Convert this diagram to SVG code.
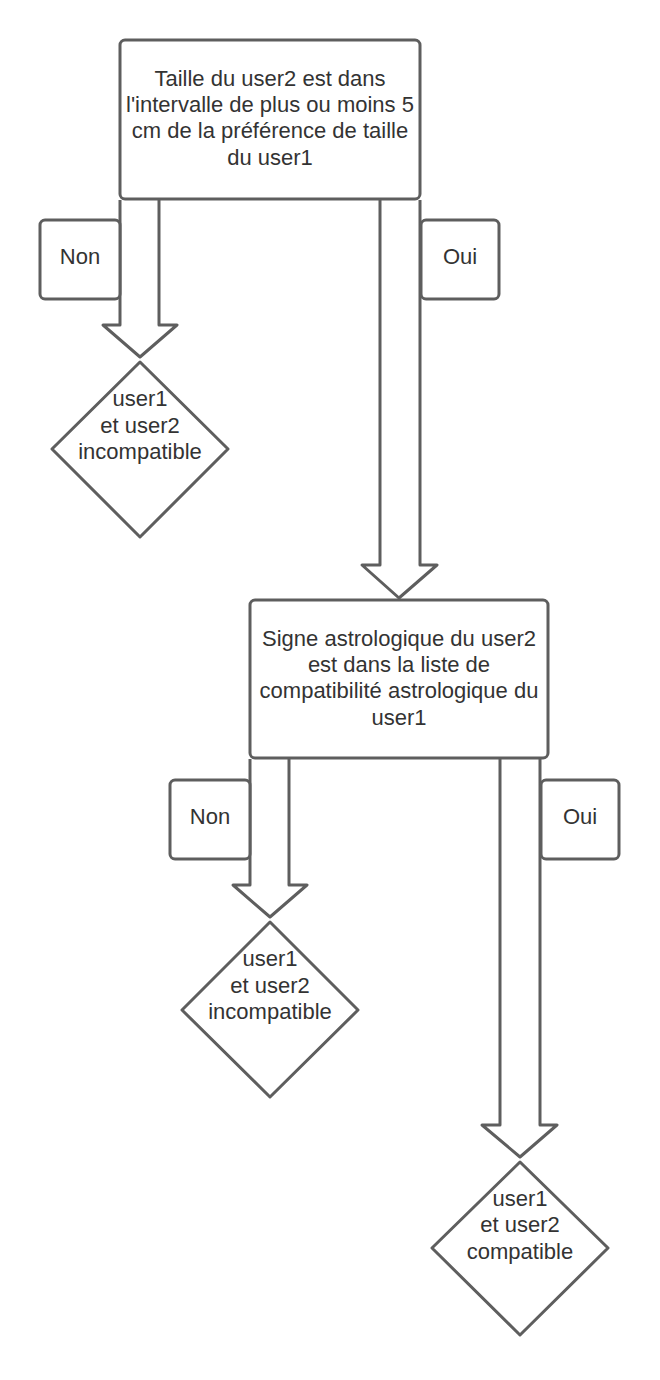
<svg xmlns="http://www.w3.org/2000/svg" width="660" height="1380" viewBox="0 0 660 1380">
<style>
.box{fill:#ffffff;stroke:#5e5e5e;stroke-width:3;stroke-linejoin:round}
.arr{fill:#ffffff;stroke:#5e5e5e;stroke-width:3;stroke-linejoin:round}
text{font-family:"Liberation Sans",Arial,sans-serif;font-size:22px;fill:#333333;text-anchor:middle;dominant-baseline:central}
</style>
<rect width="660" height="1380" fill="#ffffff"/>
<g id="connectors">
<path class="arr" d="M120,200 V325 H103 L140,357 L177,325 H159 V200"/>
<path class="arr" d="M380,200 V565 H362 L399,598 L437,565 H420 V200"/>
<path class="arr" d="M250,759 V885 H233 L270,917 L307,885 H289 V759"/>
<path class="arr" d="M500,759 V1125 H482 L520,1157 L557,1125 H540 V759"/>
</g>
<g id="q1">
<rect class="box" x="120" y="40" width="300" height="159" rx="5"/>
<text x="270" y="78">Taille du user2 est dans</text>
<text x="270" y="104">l'intervalle de plus ou moins 5</text>
<text x="270" y="130">cm de la préférence de taille</text>
<text x="270" y="157">du user1</text>
</g>
<g id="non1">
<rect class="box" x="40" y="220" width="80" height="79" rx="5"/>
<text x="80" y="256">Non</text>
</g>
<g id="oui1">
<rect class="box" x="421" y="220" width="78" height="79" rx="5"/>
<text x="460" y="256">Oui</text>
</g>
<g id="res1">
<path class="box" d="M140,362 L228,449 L140,537 L52,449 Z"/>
<text x="140" y="398">user1</text>
<text x="140" y="425">et user2</text>
<text x="140" y="451">incompatible</text>
</g>
<g id="q2">
<rect class="box" x="250" y="600" width="298" height="158" rx="5"/>
<text x="399" y="638">Signe astrologique du user2</text>
<text x="399" y="664">est dans la liste de</text>
<text x="399" y="690">compatibilité astrologique du</text>
<text x="399" y="717">user1</text>
</g>
<g id="non2">
<rect class="box" x="170" y="780" width="80" height="79" rx="5"/>
<text x="210" y="816">Non</text>
</g>
<g id="oui2">
<rect class="box" x="541" y="780" width="78" height="79" rx="5"/>
<text x="580" y="816">Oui</text>
</g>
<g id="res2">
<path class="box" d="M270,922 L358,1010 L270,1097 L182,1010 Z"/>
<text x="270" y="958">user1</text>
<text x="270" y="985">et user2</text>
<text x="270" y="1011">incompatible</text>
</g>
<g id="res3">
<path class="box" d="M520,1162 L608,1248 L520,1335 L432,1248 Z"/>
<text x="520" y="1198">user1</text>
<text x="520" y="1224">et user2</text>
<text x="520" y="1251">compatible</text>
</g>
</svg>
